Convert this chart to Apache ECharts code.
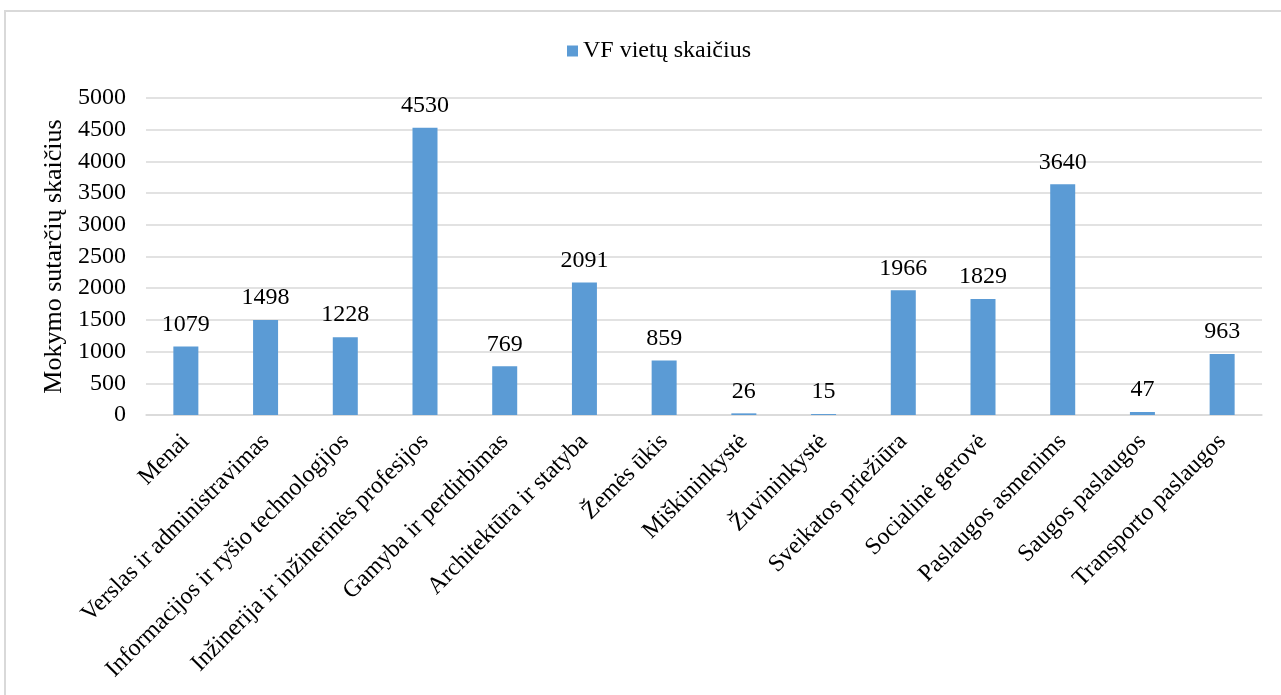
<!DOCTYPE html>
<html>
<head>
<meta charset="utf-8">
<script src="https://cdn.jsdelivr.net/npm/echarts@6/dist/echarts.min.js"></script>
<style>
  html, body { margin: 0; padding: 0; background: #fff; overflow: hidden; }
  #frame { position: absolute; left: 4px; top: 10px; width: 1400px; height: 800px; border: 2px solid #d9d9d9; }
  #main { position: absolute; left: 0; top: 0; width: 1281px; height: 695px; }
</style>
</head>
<body>
<div id="frame"></div>
<div id="main"></div>
<script>
// duomenys
const categories = [
  'Menai', 'Verslas ir administravimas', 'Informacijos ir ryšio technologijos',
  'Inžinerija ir inžinerinės profesijos', 'Gamyba ir perdirbimas', 'Architektūra ir statyba',
  'Žemės ūkis', 'Miškininkystė', 'Žuvininkystė', 'Sveikatos priežiūra',
  'Socialinė gerovė', 'Paslaugos asmenims', 'Saugos paslaugos', 'Transporto paslaugos'
]
const vfValues = [1079, 1498, 1228, 4530, 769, 2091, 859, 26, 15, 1966, 1829, 3640, 47, 963]
const seriesName = 'VF vietų skaičius'
const yTitle = 'Mokymo sutarčių skaičius'

const font = "'Liberation Serif', 'Times New Roman', serif"

let myChart = echarts.init(document.querySelector('#main'))
let option = {
  textStyle: { fontFamily: font },
  legend: {
    top: 34,
    left: 562,
    itemWidth: 11,
    itemHeight: 11,
    icon: 'rect',
    textStyle: { fontFamily: font, fontSize: 24, color: '#000' },
    data: [seriesName]
  },
  grid: {
    left: 146,
    right: 19,
    top: 98,
    bottom: 280
  },
  xAxis: {
    type: 'category',
    data: categories,
    axisTick: { show: false },
    axisLine: { lineStyle: { color: '#d9d9d9', width: 1.5 } },
    axisLabel: {
      rotate: 45,
      interval: 0,
      margin: 23,
      color: '#000',
      fontFamily: font,
      fontSize: 24
    }
  },
  yAxis: {
    type: 'value',
    min: 0,
    max: 5000,
    interval: 500,
    name: yTitle,
    nameLocation: 'middle',
    nameGap: 75,
    nameTextStyle: { fontFamily: font, fontSize: 26, color: '#000' },
    axisLine: { show: false },
    axisTick: { show: false },
    axisLabel: {
      margin: 20,
      color: '#000',
      fontFamily: font,
      fontSize: 24,
      formatter: v => String(v)
    },
    splitLine: { lineStyle: { color: '#d9d9d9', width: 1.5 } }
  },
  series: [
    {
      name: seriesName,
      type: 'bar',
      data: vfValues,
      barWidth: 25,
      itemStyle: { color: '#5b9bd5' },
      label: {
        show: true,
        position: 'top',
        distance: 10,
        color: '#000',
        fontFamily: font,
        fontSize: 24
      }
    }
  ]
}
myChart.setOption(option)
</script>
</body>
</html>
